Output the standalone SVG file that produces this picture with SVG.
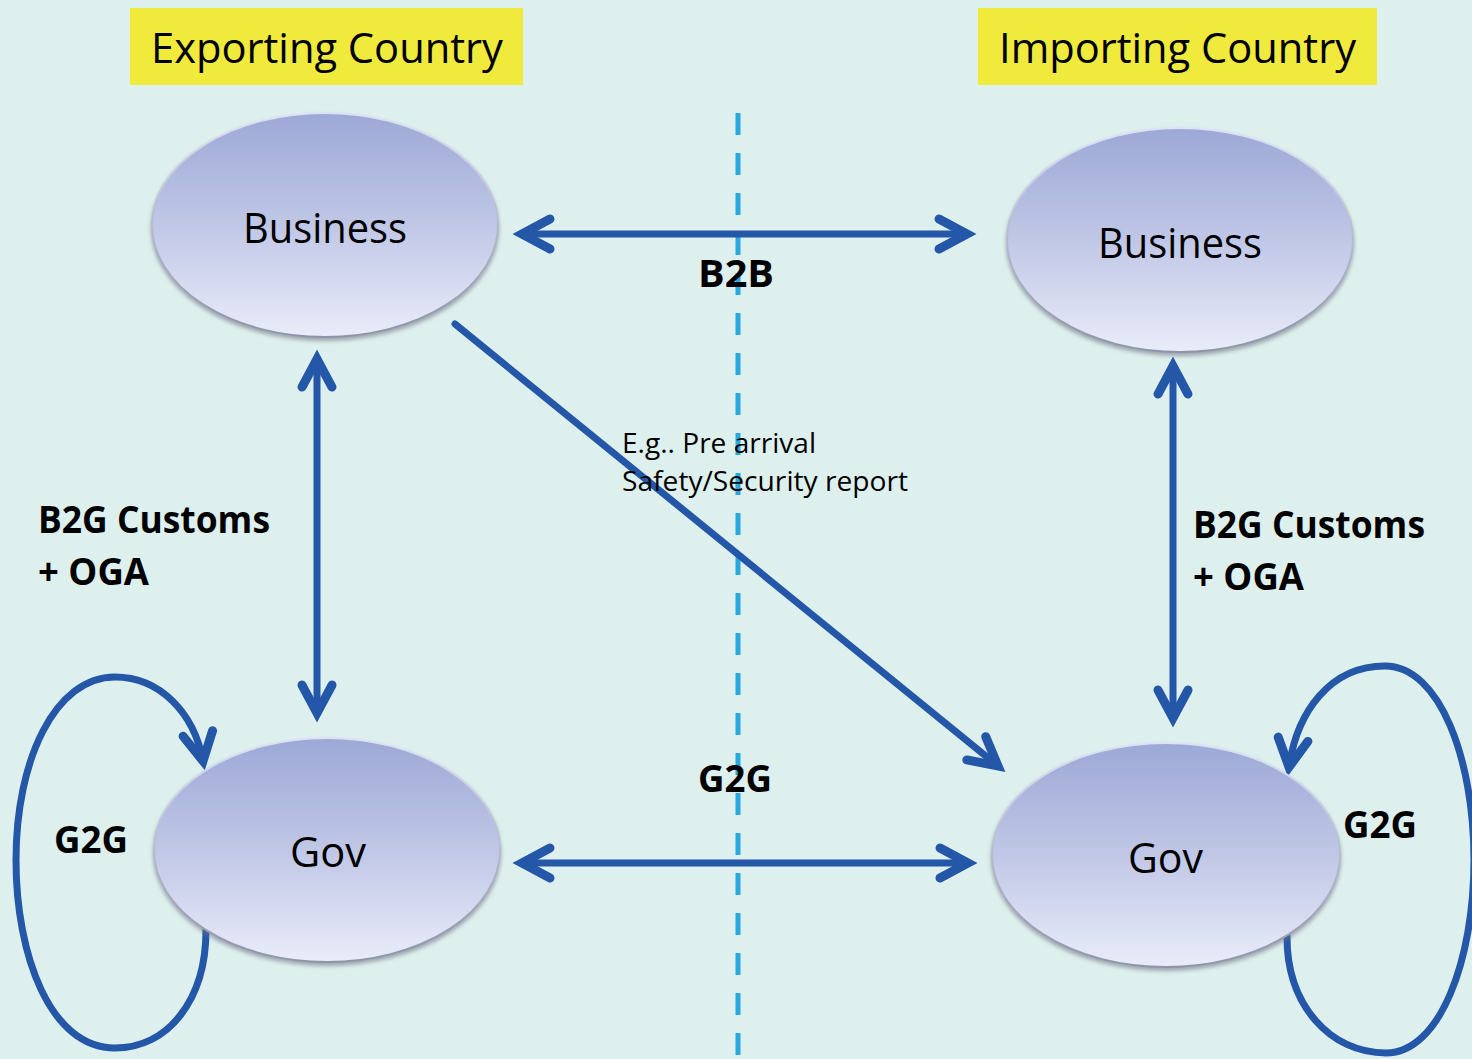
<svg xmlns="http://www.w3.org/2000/svg" width="1472" height="1059" viewBox="0 0 1472 1059">
<style>
.lbl{font-family:"Open Sans","Noto Sans","Liberation Sans",sans-serif;fill:#000}
.big{font-size:42px}
.bold{font-size:38px;font-weight:bold}
.small{font-size:27px}
.conn{stroke:#2457A8;stroke-width:7;fill:none;stroke-linecap:round}
.node{fill:url(#eg);stroke:url(#es);stroke-width:2;filter:url(#sh)}
</style>
<defs>
<linearGradient id="eg" x1="0" y1="0" x2="0" y2="1">
<stop offset="0" stop-color="#9CA8D6"/>
<stop offset="0.5" stop-color="#C0C7E6"/>
<stop offset="1" stop-color="#E9ECF9"/>
</linearGradient>
<linearGradient id="es" x1="0" y1="0" x2="0" y2="1">
<stop offset="0" stop-color="#DCE2F6"/>
<stop offset="1" stop-color="#8E93A8"/>
</linearGradient>
<filter id="sh" x="-10%" y="-10%" width="120%" height="125%">
<feDropShadow dx="0" dy="3" stdDeviation="2" flood-color="#6E7080" flood-opacity="0.6"/>
</filter>
<marker id="ah" markerUnits="userSpaceOnUse" viewBox="-40 -25 50 50" refX="0" refY="0" markerWidth="50" markerHeight="50" orient="auto-start-reverse">
<path d="M-28,-15 L0,0 L-28,15" fill="none" stroke="#2457A8" stroke-width="9" stroke-linecap="round" stroke-linejoin="miter"/>
</marker>
</defs>
<rect width="1472" height="1059" fill="#DEF0EE"/>
<g id="exporting-header">
<rect x="130" y="8" width="393" height="77" fill="#EFEA3C"/>
<text class="lbl big" x="151" y="63" textLength="352" lengthAdjust="spacingAndGlyphs">Exporting Country</text>
</g>
<g id="importing-header">
<rect x="978" y="8" width="399" height="77" fill="#EFEA3C"/>
<text class="lbl big" x="999" y="63" textLength="357" lengthAdjust="spacingAndGlyphs">Importing Country</text>
</g>
<line id="border" x1="738" y1="113" x2="738" y2="1059" stroke="#29A8E0" stroke-width="5" stroke-dasharray="22 18"/>
<g id="connectors">
<line class="conn" x1="522" y1="234" x2="967" y2="234" marker-start="url(#ah)" marker-end="url(#ah)"/>
<line class="conn" x1="317" y1="359" x2="317" y2="713" marker-start="url(#ah)" marker-end="url(#ah)"/>
<line class="conn" x1="1173" y1="366" x2="1173" y2="718" marker-start="url(#ah)" marker-end="url(#ah)"/>
<line class="conn" x1="522" y1="863" x2="968" y2="863" marker-start="url(#ah)" marker-end="url(#ah)"/>
<line class="conn" x1="455" y1="324" x2="998" y2="766" marker-end="url(#ah)"/>
<path class="conn" d="M206,930 C206,1000 168,1048 115,1048 C50,1048 16,955 16,860 C16,760 55,677 115,677 C160,677 194,713 203,761" marker-end="url(#ah)"/>
<path class="conn" d="M1287,937 C1287,1005 1330,1053 1386,1053 C1440,1053 1474,960 1474,860 C1474,760 1440,666 1385,666 C1330,666 1297,712 1289,767" marker-end="url(#ah)"/>
</g>
<g id="business-export">
<ellipse class="node" cx="325" cy="225" rx="173" ry="112"/>
<text class="lbl big" x="243" y="243" textLength="164" lengthAdjust="spacingAndGlyphs">Business</text>
</g>
<g id="business-import">
<ellipse class="node" cx="1180" cy="240" rx="173" ry="112"/>
<text class="lbl big" x="1098" y="258" textLength="164" lengthAdjust="spacingAndGlyphs">Business</text>
</g>
<g id="gov-export">
<ellipse class="node" cx="327" cy="850" rx="173" ry="112"/>
<text class="lbl big" x="290" y="867" textLength="76" lengthAdjust="spacingAndGlyphs">Gov</text>
</g>
<g id="gov-import">
<ellipse class="node" cx="1166" cy="855" rx="174" ry="112"/>
<text class="lbl big" x="1128" y="873" textLength="75" lengthAdjust="spacingAndGlyphs">Gov</text>
</g>
<g id="labels">
<text class="lbl bold" x="698" y="287" textLength="76" lengthAdjust="spacingAndGlyphs">B2B</text>
<text class="lbl bold" x="38" y="533" textLength="232" lengthAdjust="spacingAndGlyphs">B2G Customs</text>
<text class="lbl bold" x="38" y="585" textLength="111" lengthAdjust="spacingAndGlyphs">+ OGA</text>
<text class="lbl bold" x="1193" y="538" textLength="232" lengthAdjust="spacingAndGlyphs">B2G Customs</text>
<text class="lbl bold" x="1193" y="590" textLength="111" lengthAdjust="spacingAndGlyphs">+ OGA</text>
<text class="lbl bold" x="54" y="853" textLength="74" lengthAdjust="spacingAndGlyphs">G2G</text>
<text class="lbl bold" x="698" y="792" textLength="74" lengthAdjust="spacingAndGlyphs">G2G</text>
<text class="lbl bold" x="1343" y="838" textLength="74" lengthAdjust="spacingAndGlyphs">G2G</text>
<text class="lbl small" x="622" y="453" textLength="194" lengthAdjust="spacingAndGlyphs">E.g.. Pre arrival</text>
<text class="lbl small" x="622" y="491" textLength="286" lengthAdjust="spacingAndGlyphs">Safety/Security report</text>
</g>
</svg>
